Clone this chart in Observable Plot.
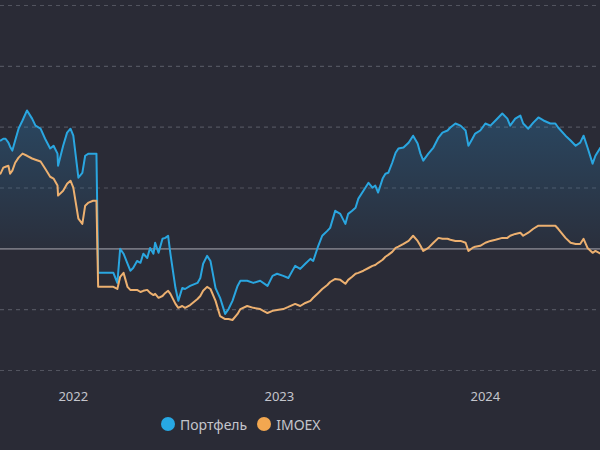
<!DOCTYPE html>
<html>
<head>
<meta charset="utf-8">
<script src="https://cdn.jsdelivr.net/npm/d3@7"></script>
<script src="https://cdn.jsdelivr.net/npm/@observablehq/plot@0.6"></script>
<style>
  html, body { margin: 0; padding: 0; background: #2a2b36; }
  body { width: 600px; height: 450px; overflow: hidden; position: relative; font-family: "Noto Sans", sans-serif; }
  #chart svg { display: block; }
  #legend { position: absolute; left: 161px; top: 415px; height: 18px; display: flex; align-items: center; font-size: 14px; color: #c4c5cc; }
  .item { display: flex; align-items: center; margin-right: 10px; }
  .dot { width: 14px; height: 14px; border-radius: 50%; margin-right: 5px; }
</style>
</head>
<body>
<div id="chart"></div>
<div id="legend"></div>
<script>
// Cumulative return, % — portfolio vs IMOEX index
const dates = [
  "2021-08-25","2021-08-30","2021-09-03","2021-09-08","2021-09-11","2021-09-15","2021-09-20","2021-09-26",
  "2021-10-03","2021-10-11","2021-10-20","2021-10-26","2021-11-04","2021-11-12","2021-11-21","2021-11-27",
  "2021-12-04","2021-12-05","2021-12-14","2021-12-21","2021-12-27","2022-01-01","2022-01-10","2022-01-17",
  "2022-01-22","2022-01-28","2022-02-05","2022-02-11","2022-02-14","2022-02-18","2022-03-13","2022-03-20",
  "2022-03-25","2022-03-31","2022-04-07","2022-04-12","2022-04-17","2022-04-24","2022-04-30","2022-05-05",
  "2022-05-12","2022-05-17","2022-05-23","2022-05-26","2022-06-01","2022-06-08","2022-06-13","2022-06-18",
  "2022-06-22","2022-07-01","2022-07-06","2022-07-13","2022-07-18","2022-07-27","2022-08-09","2022-08-14",
  "2022-08-19","2022-08-26","2022-09-01","2022-09-10","2022-09-18","2022-09-27","2022-10-03","2022-10-10",
  "2022-10-19","2022-10-24","2022-11-05","2022-11-16","2022-11-28","2022-12-11","2022-12-20","2022-12-28",
  "2023-01-08","2023-01-17","2023-01-29","2023-02-07","2023-02-16","2023-02-25","2023-03-02","2023-03-11",
  "2023-03-18","2023-03-27","2023-04-01","2023-04-10","2023-04-19","2023-04-28","2023-05-03","2023-05-10",
  "2023-05-16","2023-05-21","2023-05-30","2023-06-08","2023-06-15","2023-06-20","2023-06-25","2023-07-03",
  "2023-07-08","2023-07-13","2023-07-20","2023-07-26","2023-07-31","2023-08-09","2023-08-18","2023-08-26",
  "2023-09-03","2023-09-08","2023-09-13","2023-09-22","2023-10-01","2023-10-10","2023-10-17","2023-10-26",
  "2023-10-31","2023-11-09","2023-11-18","2023-11-27","2023-12-02","2023-12-09","2023-12-14","2023-12-23",
  "2024-01-01","2024-01-10","2024-01-19","2024-01-31","2024-02-09","2024-02-14","2024-02-23","2024-03-03",
  "2024-03-08","2024-03-17","2024-03-26","2024-04-04","2024-04-13","2024-04-25","2024-05-04","2024-05-09",
  "2024-05-22","2024-05-31","2024-06-09","2024-06-17","2024-06-23","2024-06-30","2024-07-09","2024-07-14",
  "2024-07-23"
];

const portfolio = [
  35.6, 36.2, 36.2, 34.9, 33.6, 32.3, 35.6, 39.5,
  42.2, 45.5, 42.8, 40.5, 39.5, 36.2, 33.0, 33.9,
  31.3, 27.3, 33.9, 38.2, 39.5, 37.2, 23.4, 25.0,
  30.6, 31.3, 31.3, 31.3, -7.9, -7.9, -7.9, -11.2,
  0.0, -1.6, -4.9, -7.2, -6.3, -4.0, -4.6, -1.6,
  -3.0, 0.3, -1.6, 2.0, -1.3, 3.3, 3.6, 4.3,
  -1.6, -12.9, -17.1, -12.9, -13.2, -12.2, -11.2, -9.6,
  -4.9, -2.3, -4.0, -12.9, -16.1, -21.4, -19.8, -17.1,
  -12.2, -10.5, -10.5, -11.2, -10.5, -12.2, -8.9, -8.2,
  -8.9, -9.6, -5.6, -6.6, -4.9, -3.3, -4.0, 1.0,
  4.3, 5.9, 6.9, 12.5, 11.5, 8.2, 11.5, 12.5,
  13.5, 16.5, 19.1, 21.7, 20.1, 20.8, 18.5, 23.1,
  24.7, 25.0, 28.3, 31.6, 33.0, 33.3, 34.9, 37.2,
  34.6, 31.3, 29.0, 31.3, 33.3, 36.6, 38.2, 38.9,
  39.9, 41.2, 40.5, 38.9, 33.9, 36.2, 37.9, 38.9,
  41.2, 40.5, 42.2, 44.5, 42.8, 40.5, 42.8, 43.8,
  41.2, 39.5, 41.5, 43.2, 42.2, 41.2, 41.2, 39.9,
  37.2, 35.6, 33.9, 34.9, 37.2, 33.3, 28.0, 30.6,
  33.3
];

const imoex = [
  24.7, 26.7, 27.0, 27.3, 24.7, 25.7, 28.3, 30.0,
  31.3, 30.6, 29.7, 29.3, 28.7, 26.4, 23.7, 23.1,
  20.8, 17.5, 19.1, 21.4, 22.4, 20.1, 9.9, 8.2,
  14.2, 15.2, 15.8, 15.8, -12.5, -12.5, -12.5, -13.2,
  -9.2, -7.9, -12.5, -13.5, -13.5, -13.5, -14.2, -13.8,
  -13.5, -14.5, -15.2, -14.8, -16.1, -15.5, -14.5, -13.8,
  -14.8, -18.1, -19.4, -18.8, -19.4, -18.5, -16.5, -15.5,
  -13.8, -12.5, -13.2, -17.1, -22.1, -23.1, -23.1, -23.4,
  -21.4, -19.8, -18.8, -19.4, -19.8, -21.1, -20.4, -20.1,
  -19.8, -19.1, -18.1, -18.8, -17.8, -17.1, -16.1, -14.5,
  -13.2, -11.9, -10.9, -9.9, -10.2, -11.5, -10.2, -9.2,
  -8.2, -7.9, -7.2, -6.3, -5.6, -5.3, -4.6, -3.6,
  -2.6, -2.0, -1.0, 0.3, 0.7, 1.6, 2.6, 4.3,
  2.6, 1.0, -0.7, 0.3, 2.0, 3.6, 3.3, 3.3,
  3.0, 2.6, 2.6, 2.0, -0.7, 0.3, 0.7, 1.0,
  2.0, 2.6, 3.0, 3.6, 3.6, 4.3, 4.9, 5.3,
  4.3, 5.3, 6.6, 7.6, 7.6, 7.6, 7.6, 6.6,
  3.6, 2.0, 1.6, 1.6, 3.3, 0.3, -1.3, -0.7,
  -1.6
];

const gridValues = [-40, -20, 20, 40, 60, 80];
const yearTicks = ["2022-01-01", "2023-01-01", "2024-01-01"];
const xDomain = ["2021-08-25", "2024-07-23"];
const seriesNames = ["Портфель", "IMOEX"];
const seriesColors = ["#27a8e4", "#f2a750"];
const lineColors = ["#2aa6e0", "#ecb070"];

const parse = d3.utcParse("%Y-%m-%d");
const rows = dates.map((d, i) => ({date: parse(d), portfolio: portfolio[i], imoex: imoex[i]}));

const chart = Plot.plot({
  width: 600,
  height: 410,
  marginTop: 5,
  marginBottom: 40,
  marginLeft: 0,
  marginRight: 0,
  style: {background: "transparent", color: "#c4c5cc", fontSize: "13px", fontFamily: "Noto Sans, sans-serif"},
  x: {
    type: "utc",
    domain: xDomain.map(parse),
    ticks: yearTicks.map(parse),
    tickFormat: "%Y",
    tickSize: 0,
    tickPadding: 21,
    label: null
  },
  y: {domain: [-40, 80], axis: null},
  marks: [
    Plot.ruleY(gridValues, {stroke: "#52545f", strokeWidth: 1.2, strokeDasharray: "4,4"}),
    Plot.areaY(rows, {x: "date", y1: 0, y2: "portfolio", fill: "url(#pf-fill)"}),
    Plot.ruleY([0], {stroke: "#74757f", strokeWidth: 1.8}),
    Plot.lineY(rows, {x: "date", y: "portfolio", stroke: lineColors[0], strokeWidth: 2}),
    Plot.lineY(rows, {x: "date", y: "imoex", stroke: lineColors[1], strokeWidth: 2})
  ]
});

// Vertical gradient for the portfolio area, fading toward the zero line
const yScale = chart.scale("y");
const defs = d3.select(chart).insert("defs", ":first-child");
const grad = defs.append("linearGradient")
  .attr("id", "pf-fill")
  .attr("gradientUnits", "userSpaceOnUse")
  .attr("x1", 0).attr("x2", 0)
  .attr("y1", yScale.apply(45)).attr("y2", yScale.apply(0));
grad.append("stop").attr("offset", "0%").attr("stop-color", "#2a8fd0").attr("stop-opacity", 0.28);
grad.append("stop").attr("offset", "100%").attr("stop-color", "#2a8fd0").attr("stop-opacity", 0.04);

document.getElementById("chart").appendChild(chart);

const legend = d3.select("#legend");
seriesNames.forEach((name, i) => {
  const item = legend.append("div").attr("class", "item");
  item.append("div").attr("class", "dot").style("background", seriesColors[i]);
  item.append("span").text(name);
});
</script>
</body>
</html>
